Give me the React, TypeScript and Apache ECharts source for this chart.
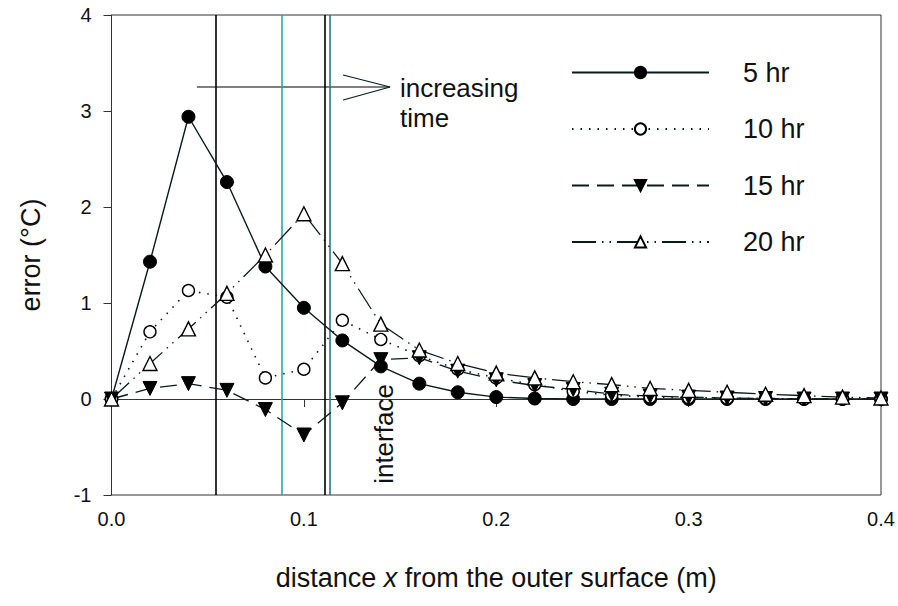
import React, { useEffect, useRef } from "react";
import * as echarts from "echarts";

// distance from the outer surface (m)
const distances = [
  0, 0.02, 0.04, 0.06, 0.08, 0.1, 0.12, 0.14, 0.16, 0.18, 0.2,
  0.22, 0.24, 0.26, 0.28, 0.3, 0.32, 0.34, 0.36, 0.38, 0.4,
];

// temperature error (°C) at each distance
const err5hr = [0, 1.43, 2.94, 2.26, 1.38, 0.95, 0.61, 0.34, 0.16, 0.07, 0.02, 0.005, 0, 0, 0, 0, 0, 0, 0, 0, 0];
const err10hr = [0, 0.7, 1.13, 1.06, 0.22, 0.31, 0.82, 0.62, 0.45, 0.31, 0.22, 0.15, 0.08, 0.04, 0.02, 0.015, 0.01, 0.005, 0, 0, 0];
const err15hr = [0, 0.11, 0.16, 0.09, -0.11, -0.375, -0.04, 0.41, 0.43, 0.29, 0.2, 0.14, 0.1, 0.05, 0.03, 0.02, 0.01, 0.005, 0, 0, 0];
const err20hr = [0, 0.37, 0.73, 1.1, 1.5, 1.93, 1.41, 0.78, 0.51, 0.37, 0.27, 0.22, 0.18, 0.15, 0.11, 0.09, 0.07, 0.05, 0.035, 0.02, 0.01];

const seriesNames = ["5 hr", "10 hr", "15 hr", "20 hr"];

// interface positions (m)
const interfaceX = [0.0543, 0.0884, 0.111, 0.1136];
const interfaceColors = ["#000000", "#2aa7a7", "#000000", "#1f7f7f"];

// "increasing time" arrow, in data units
const arrowShaft = [[0.0444, 3.25], [0.1448, 3.25]];
const arrowHead = [[0.1204, 3.375], [0.1448, 3.25], [0.1204, 3.115]];

const FONT = "'Liberation Sans', Arial, sans-serif";
const INK = "#0a1a1a";

function pairs(ys: number[]) {
  return distances.map((x, i) => [x, ys[i]]);
}

export default function App() {
  const ref = useRef<HTMLDivElement>(null);

  useEffect(() => {
    const chart = echarts.init(ref.current!, null, { renderer: "svg" });

    const base = {
      type: "line" as const,
      showSymbol: true,
      z: 5,
    };

    chart.setOption({
      animation: false,
      backgroundColor: "#ffffff",
      textStyle: { fontFamily: FONT },
      grid: {
        left: 111.5,
        right: 17,
        top: 15,
        bottom: 111,
        show: true,
        borderColor: "#333",
        borderWidth: 1,
      },
      xAxis: {
        type: "value",
        min: 0,
        max: 0.4,
        interval: 0.1,
        axisLine: { show: true, lineStyle: { color: "#333", width: 1 } },
        axisTick: { show: true, length: 8, lineStyle: { color: "#333" } },
        splitLine: { show: false },
        axisLabel: {
          formatter: (v: number) => v.toFixed(1),
          fontSize: 20,
          color: "#111",
          margin: 14,
          fontFamily: FONT,
        },
        name: "distance {i|x} from the outer surface (m)",
        nameLocation: "middle",
        nameGap: 69,
        nameTextStyle: {
          fontSize: 27,
          color: "#111",
          fontFamily: FONT,
          rich: { i: { fontStyle: "italic", fontSize: 27, color: "#111", fontFamily: FONT } },
        },
      },
      yAxis: {
        type: "value",
        min: -1,
        max: 4,
        interval: 1,
        axisLine: { show: true, lineStyle: { color: "#333", width: 1 } },
        axisTick: { show: true, length: 8, lineStyle: { color: "#333" } },
        splitLine: { show: false },
        axisLabel: { fontSize: 20, color: "#111", margin: 20, fontFamily: FONT },
        name: "error (°C)",
        nameLocation: "middle",
        nameGap: 67,
        nameTextStyle: { fontSize: 27, color: "#111", fontFamily: FONT },
      },
      legend: {
        data: seriesNames,
        orient: "vertical",
        left: 571,
        top: 59,
        padding: 0,
        itemWidth: 137,
        itemHeight: 14,
        itemGap: 29.5,
        textStyle: { fontSize: 27, color: "#111", fontFamily: FONT, padding: [0, 0, 0, 29] },
      },
      series: [
        {
          ...base,
          name: "5 hr",
          data: pairs(err5hr),
          symbol: "circle",
          symbolSize: 13,
          itemStyle: { color: "#000", borderColor: "#000", borderWidth: 1 },
          lineStyle: { color: INK, width: 1.4, type: "solid" },
        },
        {
          ...base,
          name: "10 hr",
          data: pairs(err10hr),
          symbol: "circle",
          symbolSize: 12,
          itemStyle: { color: "#fff", borderColor: "#000", borderWidth: 1.4 },
          lineStyle: { color: INK, width: 1.6, type: [1.5, 7] },
        },
        {
          ...base,
          name: "15 hr",
          data: pairs(err15hr),
          symbol: "triangle",
          symbolRotate: 180,
          symbolSize: 14,
          itemStyle: { color: "#000", borderColor: "#000", borderWidth: 1 },
          lineStyle: { color: INK, width: 1.3, type: [17, 8] },
        },
        {
          ...base,
          name: "20 hr",
          data: pairs(err20hr),
          symbol: "triangle",
          symbolSize: 14,
          itemStyle: { color: "#fff", borderColor: "#000", borderWidth: 1.4 },
          lineStyle: { color: INK, width: 1.3, type: [24, 6, 1.5, 6, 1.5, 6] },
        },
        {
          type: "line",
          name: "arrow",
          data: arrowShaft,
          symbol: "none",
          silent: true,
          z: 3,
          lineStyle: { color: "#000", width: 1.2 },
          markLine: {
            silent: true,
            symbol: "none",
            precision: 5,
            label: { show: false },
            data: interfaceX.map((x, i) => ({
              xAxis: x,
              lineStyle: { color: interfaceColors[i], width: 1.6, type: "solid" },
            })),
          },
        },
        {
          type: "line",
          name: "arrowhead",
          data: arrowHead,
          symbol: "none",
          silent: true,
          z: 3,
          lineStyle: { color: INK, width: 1.2 },
        },
      ],
      graphic: [
        {
          type: "text",
          left: 400,
          top: 73,
          style: {
            text: "increasing\ntime",
            fontSize: 26,
            lineHeight: 30,
            fontFamily: FONT,
            fill: "#111",
          },
          z: 10,
        },
        {
          type: "text",
          x: 384,
          y: 434,
          rotation: Math.PI / 2,
          style: {
            text: "interface",
            fontSize: 26,
            fontFamily: FONT,
            fill: "#111",
            align: "center",
            verticalAlign: "middle",
          },
          z: 10,
        },
      ],
    });

    return () => chart.dispose();
  }, []);

  return (
    <div
      ref={ref}
      style={{ position: "fixed", left: 0, top: 0, width: 898, height: 606 }}
    />
  );
}
